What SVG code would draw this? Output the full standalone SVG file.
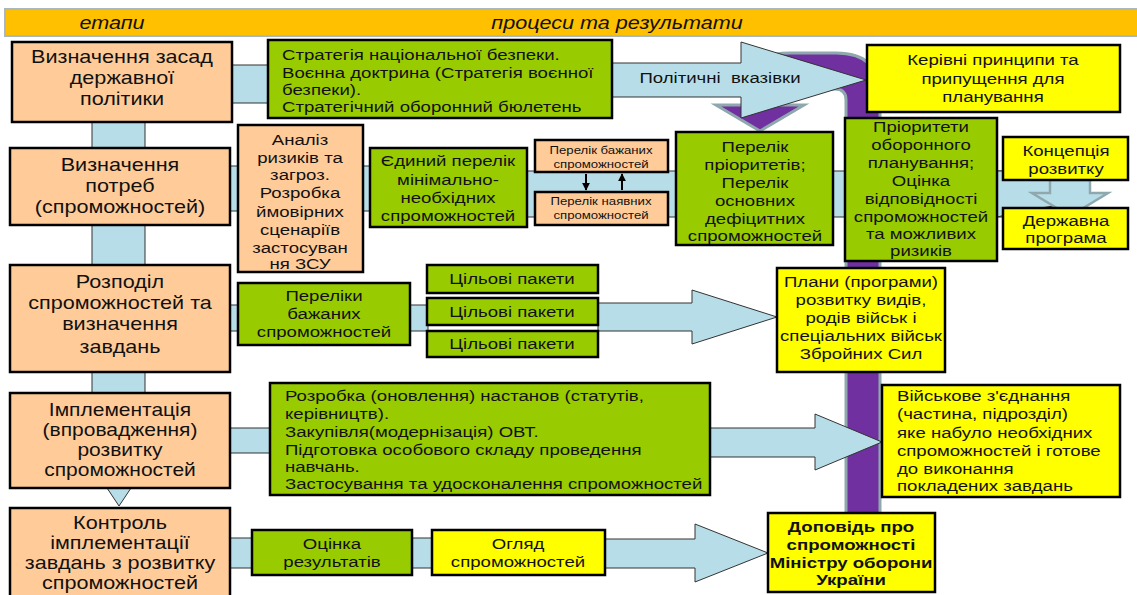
<svg xmlns="http://www.w3.org/2000/svg" width="1137" height="595" viewBox="0 0 1137 595">
<defs>
<style>
.st{fill:#FFCC99;stroke:#000;stroke-width:2.5}
.gr{fill:#99CC00;stroke:#000;stroke-width:2.5}
.ye{fill:#FFFF00;stroke:#000;stroke-width:2.5}
.band{fill:#B7DEE8;stroke:#333;stroke-width:1}
.arr{fill:#B7DEE8;stroke:#333;stroke-width:1}
text{font-family:"Liberation Sans",Arial,sans-serif;fill:#111}
.f18{font-size:18px}
.f17{font-size:17.5px}
.f15{font-size:15.5px}
.f11{font-size:11px}
.c{text-anchor:middle}
.b{font-weight:bold}
.hd{font-size:18px;font-style:italic}
</style>
<marker id="ah" viewBox="0 0 10 10" refX="9" refY="5" markerWidth="4" markerHeight="4" orient="auto"><path d="M0,0 L10,5 L0,10 Z" fill="#000"/></marker>
</defs>
<rect width="1137" height="595" fill="#fff"/>

<g id="header">
<rect x="5" y="9" width="1134" height="27" fill="#FFC000" stroke="#A9B8BE" stroke-width="2"/>
<text class="hd c" transform="translate(112 0) scale(1.2 1)"><tspan x="0" y="29">етапи</tspan></text>
<text class="hd c" transform="translate(617 0) scale(1.2 1)"><tspan x="0" y="29">процеси та результати</tspan></text>
</g>

<g id="connectors">
<path d="M880,545 L880,95 Q880,53 836,53 L790,53 Q743,53 743,95 L743,105 L716,105 L760,131 L804,105 L777,105 L777,100 Q777,89 789,89 L835,89 Q846,89 846,100 L846,545 Z" fill="#7030A0" stroke="#8FA8AE" stroke-width="3"/>
<rect class="band" x="92" y="118" width="53" height="280"/>
<polygon class="arr" points="107,488 131,488 119,506"/>
<rect class="band" x="230" y="65" width="40" height="38"/>
<polygon class="arr" points="612,63 741,63 741,42 866,80 741,118 741,97 612,97"/>
<rect class="band" x="228" y="166" width="12" height="45"/>
<rect class="band" x="363" y="166" width="8" height="45"/>
<rect class="band" x="527" y="171" width="478" height="46"/>
<polygon class="band" points="997,171 1060,171 1060,205 1028,210 997,217"/>
<polygon fill="#B7DEE8" stroke="#8FA8AE" stroke-width="2.5" points="1050,180 1090,180 1090,193 1108,193 1070,216 1032,193 1050,193"/>
<line x1="586" y1="174" x2="586" y2="190" stroke="#000" stroke-width="2" marker-end="url(#ah)"/>
<line x1="622" y1="190" x2="622" y2="174" stroke="#000" stroke-width="2" marker-end="url(#ah)"/>
<rect class="band" x="228" y="305" width="12" height="26"/>
<rect class="band" x="410" y="305" width="18" height="26"/>
<polygon class="arr" points="598,303 692,303 692,290 777,317 692,344 692,331 598,331"/>
<rect class="band" x="228" y="428" width="44" height="25"/>
<polygon class="arr" points="710,428 815,428 815,414 882,442 815,470 815,457 710,457"/>
<rect class="band" x="228" y="538" width="26" height="30"/>
<rect class="band" x="412" y="538" width="22" height="30"/>
<polygon class="arr" points="605,539 695,539 695,524 768,553 695,582 695,568 605,568"/>
</g>

<g id="stage1"><rect class="st" x="12" y="42" width="220" height="80"/>
<text class="f18 c" transform="translate(122 0) scale(1.2 1)"><tspan x="0" y="63">Визначення засад</tspan><tspan x="0" y="84">державної</tspan><tspan x="0" y="105">політики</tspan></text></g>
<g id="stage2"><rect class="st" x="10" y="148" width="220" height="77"/>
<text class="f18 c" transform="translate(120 0) scale(1.2 1)"><tspan x="0" y="171">Визначення</tspan><tspan x="0" y="192">потреб</tspan><tspan x="0" y="213">(спроможностей)</tspan></text></g>
<g id="stage3"><rect class="st" x="10" y="265" width="220" height="107"/>
<text class="f18 c" transform="translate(120 0) scale(1.2 1)"><tspan x="0" y="288">Розподіл</tspan><tspan x="0" y="309">спроможностей та</tspan><tspan x="0" y="330">визначення</tspan><tspan x="0" y="353">завдань</tspan></text></g>
<g id="stage4"><rect class="st" x="10" y="393" width="220" height="95"/>
<text class="f17 c" transform="translate(120 0) scale(1.2 1)"><tspan x="0" y="416">Імплементація</tspan><tspan x="0" y="436">(впровадження)</tspan><tspan x="0" y="456">розвитку</tspan><tspan x="0" y="476">спроможностей</tspan></text></g>
<g id="stage5"><rect class="st" x="10" y="508" width="220" height="92"/>
<text class="f18 c" transform="translate(120 0) scale(1.2 1)"><tspan x="0" y="529">Контроль</tspan><tspan x="0" y="549">імплементації</tspan><tspan x="0" y="569">завдань з розвитку</tspan><tspan x="0" y="589">спроможностей</tspan></text></g>

<g id="strategy"><rect class="gr" x="268" y="40" width="344" height="78"/>
<text class="f15" transform="translate(282 0) scale(1.2 1)"><tspan x="0" y="60">Стратегія національної безпеки.</tspan><tspan x="0" y="78">Воєнна доктрина (Стратегія воєнної</tspan><tspan x="0" y="95">безпеки).</tspan><tspan x="0" y="112">Стратегічний оборонний бюлетень</tspan></text></g>
<g id="political"><text class="f15 c" xml:space="preserve" transform="translate(720 0) scale(1.2 1)"><tspan x="0" y="83">Політичні  вказівки</tspan></text></g>
<g id="guidance"><rect class="ye" x="867" y="45" width="253" height="67"/>
<text class="f15 c" transform="translate(993 0) scale(1.2 1)"><tspan x="0" y="65">Керівні принципи та</tspan><tspan x="0" y="84">припущення для</tspan><tspan x="0" y="102">планування</tspan></text></g>

<g id="analysis"><rect class="st" x="238" y="125" width="125" height="147"/>
<text class="f15 c" transform="translate(300 0) scale(1.2 1)"><tspan x="0" y="145">Аналіз</tspan><tspan x="0" y="163">ризиків та</tspan><tspan x="0" y="180">загроз.</tspan><tspan x="0" y="198">Розробка</tspan><tspan x="0" y="217">ймовірних</tspan><tspan x="0" y="235">сценаріїв</tspan><tspan x="0" y="253">застосуван</tspan><tspan x="0" y="269">ня ЗСУ</tspan></text></g>
<g id="unified"><rect class="gr" x="370" y="148" width="157" height="79"/>
<text class="f15 c" transform="translate(448 0) scale(1.2 1)"><tspan x="0" y="166">Єдиний перелік</tspan><tspan x="0" y="185">мінімально-</tspan><tspan x="0" y="203">необхідних</tspan><tspan x="0" y="221">спроможностей</tspan></text></g>
<g id="desired"><rect class="st" x="535" y="140" width="133" height="32"/>
<text class="f11 c" transform="translate(601 0) scale(1.2 1)"><tspan x="0" y="154">Перелік бажаних</tspan><tspan x="0" y="168">спроможностей</tspan></text></g>
<g id="existing"><rect class="st" x="535" y="192" width="133" height="33"/>
<text class="f11 c" transform="translate(601 0) scale(1.2 1)"><tspan x="0" y="205">Перелік наявних</tspan><tspan x="0" y="219">спроможностей</tspan></text></g>
<g id="priorities"><rect class="gr" x="676" y="132" width="157" height="113"/>
<text class="f15 c" transform="translate(755 0) scale(1.2 1)"><tspan x="0" y="152">Перелік</tspan><tspan x="0" y="170">пріоритетів;</tspan><tspan x="0" y="188">Перелік</tspan><tspan x="0" y="206">основних</tspan><tspan x="0" y="224">дефіцитних</tspan><tspan x="0" y="241">спроможностей</tspan></text></g>
<g id="defense"><rect class="gr" x="845" y="118" width="152" height="143"/>
<text class="f15 c" transform="translate(921 0) scale(1.2 1)"><tspan x="0" y="132">Пріоритети</tspan><tspan x="0" y="150">оборонного</tspan><tspan x="0" y="168">планування;</tspan><tspan x="0" y="186">Оцінка</tspan><tspan x="0" y="204">відповідності</tspan><tspan x="0" y="222">спроможностей</tspan><tspan x="0" y="239">та можливих</tspan><tspan x="0" y="256">ризиків</tspan></text></g>
<g id="concept"><rect class="ye" x="1003" y="137" width="125" height="43"/>
<text class="f15 c" transform="translate(1066 0) scale(1.2 1)"><tspan x="0" y="156">Концепція</tspan><tspan x="0" y="174">розвитку</tspan></text></g>
<g id="program"><rect class="ye" x="1003" y="208" width="125" height="41"/>
<text class="f15 c" transform="translate(1066 0) scale(1.2 1)"><tspan x="0" y="226">Державна</tspan><tspan x="0" y="243">програма</tspan></text></g>

<g id="lists"><rect class="gr" x="238" y="283" width="172" height="62"/>
<text class="f15 c" transform="translate(324 0) scale(1.2 1)"><tspan x="0" y="301">Переліки</tspan><tspan x="0" y="319">бажаних</tspan><tspan x="0" y="337">спроможностей</tspan></text></g>
<g id="pack1"><rect class="gr" x="427" y="265" width="171" height="28"/>
<text class="f15 c" transform="translate(512 0) scale(1.2 1)"><tspan x="0" y="284">Цільові пакети</tspan></text></g>
<g id="pack2"><rect class="gr" x="427" y="298" width="171" height="27"/>
<text class="f15 c" transform="translate(512 0) scale(1.2 1)"><tspan x="0" y="317">Цільові пакети</tspan></text></g>
<g id="pack3"><rect class="gr" x="427" y="331" width="171" height="26"/>
<text class="f15 c" transform="translate(512 0) scale(1.2 1)"><tspan x="0" y="349">Цільові пакети</tspan></text></g>
<g id="plans"><rect class="ye" x="777" y="268" width="168" height="104"/>
<text class="f15 c" transform="translate(861 0) scale(1.2 1)"><tspan x="0" y="287">Плани (програми)</tspan><tspan x="0" y="305">розвитку видів,</tspan><tspan x="0" y="323">родів військ і</tspan><tspan x="0" y="341">спеціальних військ</tspan><tspan x="0" y="359">Збройних Сил</tspan></text></g>

<g id="implementation"><rect class="gr" x="270" y="383" width="440" height="112"/>
<text class="f15" transform="translate(285 0) scale(1.2 1)"><tspan x="0" y="401">Розробка (оновлення) настанов (статутів,</tspan><tspan x="0" y="419">керівництв).</tspan><tspan x="0" y="437">Закупівля(модернізація) ОВТ.</tspan><tspan x="0" y="455">Підготовка особового складу проведення</tspan><tspan x="0" y="472">навчань.</tspan><tspan x="0" y="489">Застосування та удосконалення спроможностей</tspan></text></g>
<g id="unit"><rect class="ye" x="882" y="385" width="238" height="112"/>
<text class="f15" transform="translate(897 0) scale(1.2 1)"><tspan x="0" y="401">Військове з'єднання</tspan><tspan x="0" y="419">(частина, підрозділ)</tspan><tspan x="0" y="438">яке набуло необхідних</tspan><tspan x="0" y="456">спроможностей і готове</tspan><tspan x="0" y="474">до виконання</tspan><tspan x="0" y="491">покладених завдань</tspan></text></g>

<g id="evaluation"><rect class="gr" x="252" y="530" width="160" height="45"/>
<text class="f15 c" transform="translate(332 0) scale(1.2 1)"><tspan x="0" y="549">Оцінка</tspan><tspan x="0" y="567">результатів</tspan></text></g>
<g id="review"><rect class="ye" x="432" y="530" width="173" height="45"/>
<text class="f15 c" transform="translate(518 0) scale(1.2 1)"><tspan x="0" y="549">Огляд</tspan><tspan x="0" y="567">спроможностей</tspan></text></g>
<g id="report"><rect class="ye" x="768" y="513" width="167" height="79"/>
<text class="f15 c b" transform="translate(851 0) scale(1.2 1)"><tspan x="0" y="532">Доповідь про</tspan><tspan x="0" y="550">спроможності</tspan><tspan x="0" y="568">Міністру оборони</tspan><tspan x="0" y="585">України</tspan></text></g>
</svg>
